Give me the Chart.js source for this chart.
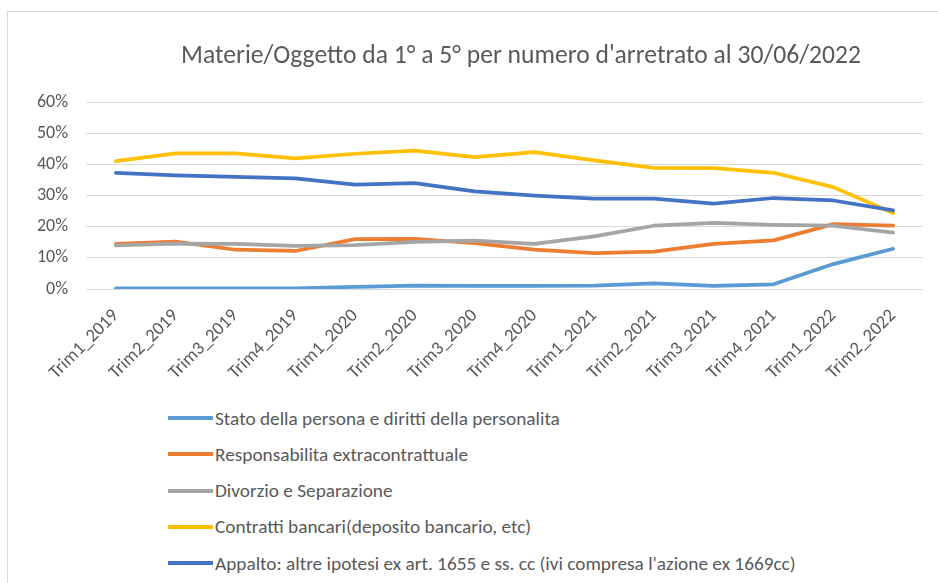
<!DOCTYPE html>
<html>
<head>
<meta charset="utf-8">
<script src="https://cdn.jsdelivr.net/npm/chart.js@4"></script>
<style>
  body { margin: 0; background: #fff; overflow: hidden; width: 938px; height: 583px; position: relative; font-family: Carlito, Lato, sans-serif; }
  .frame { position: absolute; left: 7px; top: 11px; width: 1000px; height: 640px; border: 1px solid #d9d9d9; }
  #chart { position: absolute; left: 0; top: 0; }
  .legend { position: absolute; left: 168px; top: 400px; }
  .legend-item { display: flex; align-items: center; height: 36.25px; color: #595959; font-size: 19.3px; white-space: nowrap; }
  .legend-line { display: inline-block; width: 45px; height: 4px; margin-right: 2px; }
</style>
</head>
<body>
<div class="frame"></div>
<canvas id="chart" width="1042" height="400"></canvas>
<div class="legend" id="legend"></div>
<script>
const TITLE = "Materie/Oggetto da 1° a 5° per numero d'arretrato al 30/06/2022";

const quarters = ['Trim1_2019', 'Trim2_2019', 'Trim3_2019', 'Trim4_2019', 'Trim1_2020', 'Trim2_2020', 'Trim3_2020',
    'Trim4_2020', 'Trim1_2021', 'Trim2_2021', 'Trim3_2021', 'Trim4_2021', 'Trim1_2022', 'Trim2_2022'];

const statoPersona = [0.2, 0.2, 0.2, 0.2, 0.7, 1.1, 1.0, 1.0, 1.1, 1.8, 1.0, 1.5, 8.0, 12.9];
const responsabilita = [14.5, 15.2, 12.6, 12.2, 16.0, 16.1, 14.7, 12.6, 11.5, 12.0, 14.5, 15.6, 20.8, 20.3];
const divorzio = [14.0, 14.6, 14.5, 13.8, 14.1, 15.1, 15.5, 14.5, 16.9, 20.3, 21.2, 20.6, 20.3, 18.1];
const contrattiBancari = [41.0, 43.5, 43.5, 41.9, 43.4, 44.4, 42.3, 43.9, 41.3, 38.9, 38.8, 37.3, 32.7, 24.4];
const appalto = [37.3, 36.5, 36.0, 35.5, 33.5, 34.0, 31.3, 30.0, 29.0, 29.0, 27.4, 29.2, 28.4, 25.2];

const yTicks = [0, 10, 20, 30, 40, 50, 60];

const FONT = 'Carlito, Lato, sans-serif';
const TEXT_COLOR = '#595959';

function lineSet(label, data, color, order){
    return {
        label: label,
        data: data,
        borderColor: color,
        backgroundColor: color,
        borderWidth: 3.75,
        pointRadius: 0,
        tension: 0,
        borderJoinStyle: 'round',
        borderCapStyle: 'round',
        order: order
    };
}

function buildLegend(chart){
    const box = document.getElementById('legend');

    chart.data.datasets.forEach(ds => {
        const row = document.createElement('div');
        const line = document.createElement('span');
        const text = document.createElement('span');

        row.className = 'legend-item';
        line.className = 'legend-line';
        line.style.background = ds.borderColor;
        text.innerText = ds.label;
        row.appendChild(line);
        row.appendChild(text);
        box.appendChild(row);
    });
}

const ctx = document.getElementById('chart').getContext('2d');
const config = {
    type: 'line',
    data: {
        labels: quarters,
        datasets: [
            lineSet('Stato della persona e diritti della personalita', statoPersona, '#5B9BD5', 5),
            lineSet('Responsabilita extracontrattuale', responsabilita, '#ED7D31', 4),
            lineSet('Divorzio e Separazione', divorzio, '#A5A5A5', 3),
            lineSet('Contratti bancari(deposito bancario, etc)', contrattiBancari, '#FFC000', 2),
            lineSet("Appalto: altre ipotesi ex art. 1655 e ss. cc (ivi compresa l'azione ex 1669cc)", appalto, '#4472C4', 1)
        ]
    },
    options: {
        responsive: false,
        animation: false,
        layout: { padding: 0 },
        plugins: {
            legend: { display: false },
            tooltip: { enabled: false },
            title: {
                display: true,
                text: TITLE,
                color: TEXT_COLOR,
                font: { family: FONT, size: 25.6, weight: 'normal' },
                padding: { top: 41.5, bottom: 29.8 }
            }
        },
        scales: {
            x: {
                offset: true,
                grid: { display: false },
                border: { display: false },
                ticks: {
                    color: TEXT_COLOR,
                    font: { family: FONT, size: 18.5 },
                    minRotation: 45,
                    maxRotation: 45,
                    padding: 8,
                    autoSkip: false
                },
                afterFit: s => { s.height = 111; }
            },
            y: {
                min: yTicks[0],
                max: yTicks[yTicks.length - 1],
                afterBuildTicks: s => { s.ticks = yTicks.map(v => ({ value: v })); },
                grid: { color: '#d9d9d9', lineWidth: 1, drawTicks: false },
                border: { display: false },
                ticks: {
                    color: TEXT_COLOR,
                    font: { family: FONT, size: 18 },
                    padding: 18,
                    callback: v => v + '%'
                },
                afterFit: s => { s.width = 86; }
            },
            // empty box on the right so the title centres over the full frame
            yPad: {
                position: 'right',
                display: true,
                grid: { display: false },
                border: { display: false },
                ticks: { display: false },
                afterFit: s => { s.width = 119; }
            }
        }
    }
};

const lineChart = new Chart(ctx, config);
buildLegend(lineChart);
</script>
</body>
</html>
